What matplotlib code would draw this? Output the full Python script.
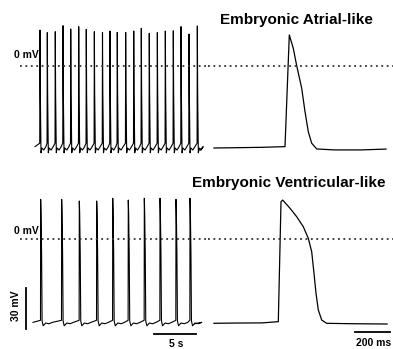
import numpy as np
import matplotlib
matplotlib.use("Agg")
import matplotlib.pyplot as plt

plt.rcParams['font.family'] = ['Liberation Sans', 'DejaVu Sans']

# spontaneous firing, atrial-like cell (time in s, voltage in mV)
atrial_spike_t = [2.38, 3.25, 4.20, 5.12, 6.04, 6.99, 7.89, 8.85, 9.82, 10.71, 11.58,
                  12.58, 13.54, 14.44, 15.39, 16.35, 17.30, 18.25, 19.17, 20.12, 21.11]
atrial_spike_peak = [26.3, 24.4, 25.1, 29.5, 27.1, 28.8, 26.8, 25.1, 24.5, 25.6, 24.6,
                     24.6, 25.6, 27.6, 23.9, 24.4, 25.6, 25.8, 28.8, 23.4, 29.3]
atrial_span = (1.79, 21.43)
# shape of one beat relative to its spike time
atrial_beat_dt = [-0.03, 0.0, 0.04, 0.12, 0.22, 0.45, 0.70]
atrial_beat_v = [-56.5, None, -20.0, -63.5, -60.0, -61.5, -59.0]

# spontaneous firing, ventricular-like cell
vent_spike_t = [2.46, 4.96, 7.06, 9.13, 11.04, 12.89, 14.80, 16.67, 18.57, 20.24]
vent_spike_peak = [29.0, 29.0, 27.8, 27.8, 29.8, 28.5, 29.8, 29.8, 29.0, 29.8]
vent_span = (1.55, 20.83)
vent_beat_dt = [-0.02, 0.0, 0.04, 0.11, 0.17, 0.30, 0.60, 1.00, 1.40]
vent_beat_v = [-59.5, None, 20.0, -10.0, -60.0, -63.5, -61.5, -62.0, -61.0]

# single action potentials (time in ms, voltage in mV)
atrial_ap_t = [33, 150, 300, 427.8, 451.7, 473.9, 492.8, 520.6, 538.9, 557.2,
               576.1, 603.9, 700, 850, 989]
atrial_ap_v = [-60.0, -59.8, -59.5, -59.0, 22.7, 12.9, 0.2, -16.3, -33.4, -48.1,
               -56.5, -60.7, -61.4, -61.4, -60.8]

vent_ap_t = [33, 150, 300, 390.6, 405.6, 415.0, 455.6, 492.8, 529.4, 557.2, 576.1,
             588.9, 600.0, 612.8, 631.7, 659.4, 800, 995]
vent_ap_v = [-61.7, -61.5, -61.4, -60.5, 27.3, 28.5, 22.5, 16.3, 9.0, 0.5, -9.3,
             -25.1, -39.7, -51.9, -59.3, -61.7, -62.0, -62.2]


def spike_train(times, peaks, dt, dv, span):
    t_out, v_out = [span[0]], [dv[-1]]
    for t0, pk in zip(times, peaks):
        for d, v in zip(dt, dv):
            t_out.append(t0 + d)
            v_out.append(pk if v is None else v)
    t_out.append(span[1])
    v_out.append(dv[-2])
    return np.array(t_out), np.array(v_out)


W, H = 393, 349
fig = plt.figure(figsize=(W / 100, H / 100), dpi=100)

ax_tl = fig.add_axes([20 / W, 179 / H, 188 / W, 170 / H])
ax_tr = fig.add_axes([208 / W, 179 / H, 185 / W, 170 / H])
ax_bl = fig.add_axes([20 / W, 0, 188 / W, 179 / H])
ax_br = fig.add_axes([208 / W, 0, 185 / W, 179 / H])

for ax in (ax_tl, ax_bl):
    ax.set_xlim(0, 22.38)
for ax in (ax_tr, ax_br):
    ax.set_xlim(0, 1027.8)
for ax in (ax_tl, ax_tr):
    ax.set_ylim(-76.1, 48.3)
for ax in (ax_bl, ax_br):
    ax.set_ylim(-80.5, 50.5)

train_kw = dict(color='black', lw=0.8, clip_on=False)
trace_kw = dict(color='black', lw=0.9, clip_on=False)
dot_kw = dict(color='#333333', lw=1.3, linestyle=(0, (1, 2)))

t, v = spike_train(atrial_spike_t, atrial_spike_peak, atrial_beat_dt, atrial_beat_v, atrial_span)
ax_tl.plot(t, v, **train_kw)
t, v = spike_train(vent_spike_t, vent_spike_peak, vent_beat_dt, vent_beat_v, vent_span)
ax_bl.plot(t, v, **train_kw)
ax_tr.plot(atrial_ap_t, atrial_ap_v, **trace_kw)
ax_br.plot(vent_ap_t, vent_ap_v, **trace_kw)

for ax in (ax_tl, ax_tr, ax_bl, ax_br):
    ax.axhline(0, **dot_kw)
    ax.axis('off')

label_kw = dict(fontsize=7.5, fontweight='bold', ha='center', va='center')
ax_tl.text(0.71, 7.7, '0 mV', **label_kw)
ax_bl.text(0.71, 5.9, '0 mV', **label_kw)

title_kw = dict(fontsize=11, fontweight='bold', ha='center', va='center')
ax_tr.text(489, 33.6, 'Embryonic Atrial-like', **title_kw)
ax_br.text(450, 41.0, 'Embryonic Ventricular-like', **title_kw)

# scale bars
ax_bl.plot([0.71, 0.71], [-66, -36], color='black', lw=1.3, clip_on=False)
ax_bl.text(-0.48, -49, '30 mV', rotation=90, **label_kw)
ax_bl.plot([15.95, 20.95], [-69.5, -69.5], color='black', lw=1.3)
ax_bl.text(18.6, -76.8, '5 s', **label_kw)
ax_br.plot([816.7, 1011], [-68.4, -68.4], color='black', lw=1.3)
ax_br.text(920, -75.9, '200 ms', **label_kw)

fig.savefig('out.png', dpi=100)
